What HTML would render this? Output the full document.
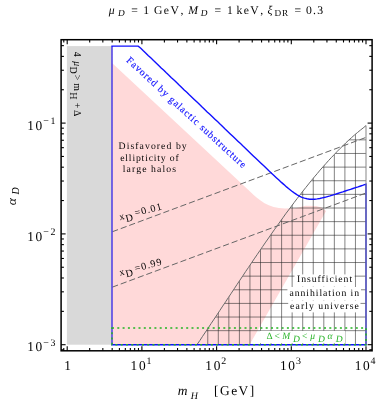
<!DOCTYPE html>
<html><head><meta charset="utf-8"><title>plot</title>
<style>
html,body{margin:0;padding:0;background:#fff;}
body{width:379px;height:401px;overflow:hidden;}
svg{display:block;font-family:"Liberation Serif",serif;}
text{fill:#000;}
.i{font-style:italic;}
</style></head><body>
<svg width="379" height="401" viewBox="0 0 379 401">
<rect x="0" y="0" width="379" height="401" fill="#fff"/>

<rect x="66.9" y="46.1" width="45.0" height="298.6" fill="#d9d9d9"/>
<path d="M112 63.0 L250 191.6 C259 200 268 208.6 285 208.6 L295 208.2 L305.6 205.7 L316.1 206.1 L321.5 207.6 L326.1 210.9 L249.5 344.7 L112 344.7 Z" fill="#ffd9d9"/>
<clipPath id="hc"><path d="M196.9 344.7 L199.8 340.6 L202.6 336.3 L205.5 332.0 L208.4 327.7 L211.2 323.4 L214.1 319.1 L217.0 314.8 L219.8 310.5 L222.7 306.1 L225.6 301.8 L228.4 297.5 L231.3 293.2 L234.2 288.8 L237.0 284.5 L239.9 280.2 L242.8 275.9 L245.6 271.6 L248.5 267.4 L251.4 263.1 L254.2 258.9 L257.1 254.7 L260.0 250.4 L262.8 246.3 L265.7 242.1 L268.6 238.0 L271.4 233.9 L274.3 229.8 L277.2 225.8 L280.0 221.8 L282.9 217.8 L285.7 213.8 L288.6 210.0 L291.5 206.1 L294.3 202.3 L297.2 198.5 L300.1 194.8 L302.9 191.1 L305.8 187.5 L308.7 183.9 L311.5 180.4 L314.4 176.9 L317.3 173.5 L320.1 170.1 L323.0 166.8 L325.9 163.6 L328.7 160.4 L331.6 157.3 L334.5 154.3 L337.3 151.3 L340.2 148.4 L343.1 145.6 L345.9 142.8 L348.8 140.1 L351.7 137.5 L354.5 135.0 L357.4 132.6 L360.3 130.2 L363.1 128.0 L366.0 125.6 L366.0 344.6 Z"/></clipPath>
<g clip-path="url(#hc)" stroke="#222" stroke-width="0.8" stroke-opacity="0.7" fill="none">
<line x1="355.45" y1="120" x2="355.45" y2="345"/>
<line x1="344.90" y1="120" x2="344.90" y2="345"/>
<line x1="334.35" y1="120" x2="334.35" y2="345"/>
<line x1="323.80" y1="120" x2="323.80" y2="345"/>
<line x1="313.25" y1="120" x2="313.25" y2="345"/>
<line x1="302.70" y1="120" x2="302.70" y2="345"/>
<line x1="292.15" y1="120" x2="292.15" y2="345"/>
<line x1="281.60" y1="120" x2="281.60" y2="345"/>
<line x1="271.05" y1="120" x2="271.05" y2="345"/>
<line x1="260.50" y1="120" x2="260.50" y2="345"/>
<line x1="249.95" y1="120" x2="249.95" y2="345"/>
<line x1="239.40" y1="120" x2="239.40" y2="345"/>
<line x1="228.85" y1="120" x2="228.85" y2="345"/>
<line x1="218.30" y1="120" x2="218.30" y2="345"/>
<line x1="207.75" y1="120" x2="207.75" y2="345"/>
<line x1="190" y1="330.67" x2="367" y2="330.67"/>
<line x1="190" y1="317.04" x2="367" y2="317.04"/>
<line x1="190" y1="303.41" x2="367" y2="303.41"/>
<line x1="190" y1="289.78" x2="367" y2="289.78"/>
<line x1="190" y1="276.15" x2="367" y2="276.15"/>
<line x1="190" y1="262.52" x2="367" y2="262.52"/>
<line x1="190" y1="248.89" x2="367" y2="248.89"/>
<line x1="190" y1="235.26" x2="367" y2="235.26"/>
<line x1="190" y1="221.63" x2="367" y2="221.63"/>
<line x1="190" y1="208.00" x2="367" y2="208.00"/>
<line x1="190" y1="194.37" x2="367" y2="194.37"/>
<line x1="190" y1="180.74" x2="367" y2="180.74"/>
<line x1="190" y1="167.11" x2="367" y2="167.11"/>
<line x1="190" y1="153.48" x2="367" y2="153.48"/>
<line x1="190" y1="139.85" x2="367" y2="139.85"/>
</g>
<path d="M196.9 344.7 L199.8 340.6 L202.6 336.3 L205.5 332.0 L208.4 327.7 L211.2 323.4 L214.1 319.1 L217.0 314.8 L219.8 310.5 L222.7 306.1 L225.6 301.8 L228.4 297.5 L231.3 293.2 L234.2 288.8 L237.0 284.5 L239.9 280.2 L242.8 275.9 L245.6 271.6 L248.5 267.4 L251.4 263.1 L254.2 258.9 L257.1 254.7 L260.0 250.4 L262.8 246.3 L265.7 242.1 L268.6 238.0 L271.4 233.9 L274.3 229.8 L277.2 225.8 L280.0 221.8 L282.9 217.8 L285.7 213.8 L288.6 210.0 L291.5 206.1 L294.3 202.3 L297.2 198.5 L300.1 194.8 L302.9 191.1 L305.8 187.5 L308.7 183.9 L311.5 180.4 L314.4 176.9 L317.3 173.5 L320.1 170.1 L323.0 166.8 L325.9 163.6 L328.7 160.4 L331.6 157.3 L334.5 154.3 L337.3 151.3 L340.2 148.4 L343.1 145.6 L345.9 142.8 L348.8 140.1 L351.7 137.5 L354.5 135.0 L357.4 132.6 L360.3 130.2 L363.1 128.0 L366.0 125.6" fill="none" stroke="#6a6a6a" stroke-width="1"/>
<g stroke="#666" stroke-width="1" stroke-dasharray="6.2 2.9" fill="none">
<line x1="112.2" y1="231.8" x2="366" y2="137.4"/>
<line x1="112.2" y1="287.2" x2="366" y2="193.0"/>
</g>
<path d="M366.0 344.7 L112.0 344.7 L112.0 46.1 L138.2 46.1 L140.8 48.3 L143.3 50.8 L145.9 53.2 L148.4 55.7 L151.0 58.1 L153.5 60.6 L156.1 63.0 L158.7 65.4 L161.2 67.9 L163.8 70.3 L166.3 72.8 L168.9 75.2 L171.4 77.7 L174.0 80.1 L176.6 82.5 L179.1 85.0 L181.7 87.4 L184.2 89.9 L186.8 92.3 L189.3 94.8 L191.9 97.2 L194.5 99.7 L197.0 102.1 L199.6 104.5 L202.1 107.0 L204.7 109.4 L207.2 111.9 L209.8 114.3 L212.4 116.8 L214.9 119.2 L217.5 121.6 L220.0 124.1 L222.6 126.5 L225.1 129.0 L227.7 131.4 L230.3 133.9 L232.8 136.3 L235.4 138.8 L237.9 141.2 L240.5 143.6 L243.0 146.1 L245.6 148.5 L248.2 151.0 L250.7 153.4 L253.3 155.9 L255.8 158.3 L258.4 160.7 L261.0 163.2 L263.5 165.6 L266.1 168.0 L268.6 170.5 L271.2 172.9 L273.7 175.3 L276.3 177.7 L278.9 180.0 L281.4 182.4 L284.0 184.6 L286.5 186.9 L289.1 189.0 L291.6 191.0 L294.2 192.9 L296.8 194.6 L299.3 196.1 L301.9 197.3 L304.4 198.2 L307.0 198.8 L309.5 199.2 L312.1 199.3 L314.7 199.2 L317.2 198.9 L319.8 198.5 L322.3 197.9 L324.9 197.3 L327.4 196.6 L330.0 195.9 L332.6 195.1 L335.1 194.3 L337.7 193.5 L340.2 192.7 L342.8 191.9 L345.3 191.0 L347.9 190.2 L350.5 189.4 L353.0 188.5 L355.6 187.7 L358.1 186.9 L360.7 186.0 L363.2 185.2 L366.0 184.2 L366.0 344.7 Z" fill="none" stroke="#1010ff" stroke-width="1.4" stroke-linejoin="miter"/>
<line x1="366" y1="125.6" x2="366" y2="344" stroke="#808080" stroke-width="1.3" stroke-opacity="0.72"/>
<line x1="112" y1="47" x2="112" y2="344" stroke="#e0b0b0" stroke-width="1.4" stroke-opacity="0.35"/>
<path d="M112 327.9 L366 327.9 L366 344.7 L112 344.7 Z" fill="none" stroke="#22b422" stroke-width="1.5" stroke-dasharray="2 3.3"/>
<rect x="61.1" y="39.7" width="311.0" height="311.1" fill="none" stroke="#000" stroke-width="1.5"/>
<g stroke="#000" stroke-width="1.1">
<line x1="63.78" y1="350.80" x2="63.78" y2="348.00"/>
<line x1="63.78" y1="39.70" x2="63.78" y2="42.50"/>
<line x1="67.20" y1="350.80" x2="67.20" y2="346.30"/>
<line x1="67.20" y1="39.70" x2="67.20" y2="44.20"/>
<line x1="89.69" y1="350.80" x2="89.69" y2="348.00"/>
<line x1="89.69" y1="39.70" x2="89.69" y2="42.50"/>
<line x1="102.84" y1="350.80" x2="102.84" y2="348.00"/>
<line x1="102.84" y1="39.70" x2="102.84" y2="42.50"/>
<line x1="112.17" y1="350.80" x2="112.17" y2="348.00"/>
<line x1="112.17" y1="39.70" x2="112.17" y2="42.50"/>
<line x1="119.41" y1="350.80" x2="119.41" y2="348.00"/>
<line x1="119.41" y1="39.70" x2="119.41" y2="42.50"/>
<line x1="125.33" y1="350.80" x2="125.33" y2="348.00"/>
<line x1="125.33" y1="39.70" x2="125.33" y2="42.50"/>
<line x1="130.33" y1="350.80" x2="130.33" y2="348.00"/>
<line x1="130.33" y1="39.70" x2="130.33" y2="42.50"/>
<line x1="134.66" y1="350.80" x2="134.66" y2="348.00"/>
<line x1="134.66" y1="39.70" x2="134.66" y2="42.50"/>
<line x1="138.48" y1="350.80" x2="138.48" y2="348.00"/>
<line x1="138.48" y1="39.70" x2="138.48" y2="42.50"/>
<line x1="141.90" y1="350.80" x2="141.90" y2="346.30"/>
<line x1="141.90" y1="39.70" x2="141.90" y2="44.20"/>
<line x1="164.39" y1="350.80" x2="164.39" y2="348.00"/>
<line x1="164.39" y1="39.70" x2="164.39" y2="42.50"/>
<line x1="177.54" y1="350.80" x2="177.54" y2="348.00"/>
<line x1="177.54" y1="39.70" x2="177.54" y2="42.50"/>
<line x1="186.87" y1="350.80" x2="186.87" y2="348.00"/>
<line x1="186.87" y1="39.70" x2="186.87" y2="42.50"/>
<line x1="194.11" y1="350.80" x2="194.11" y2="348.00"/>
<line x1="194.11" y1="39.70" x2="194.11" y2="42.50"/>
<line x1="200.03" y1="350.80" x2="200.03" y2="348.00"/>
<line x1="200.03" y1="39.70" x2="200.03" y2="42.50"/>
<line x1="205.03" y1="350.80" x2="205.03" y2="348.00"/>
<line x1="205.03" y1="39.70" x2="205.03" y2="42.50"/>
<line x1="209.36" y1="350.80" x2="209.36" y2="348.00"/>
<line x1="209.36" y1="39.70" x2="209.36" y2="42.50"/>
<line x1="213.18" y1="350.80" x2="213.18" y2="348.00"/>
<line x1="213.18" y1="39.70" x2="213.18" y2="42.50"/>
<line x1="216.60" y1="350.80" x2="216.60" y2="346.30"/>
<line x1="216.60" y1="39.70" x2="216.60" y2="44.20"/>
<line x1="239.09" y1="350.80" x2="239.09" y2="348.00"/>
<line x1="239.09" y1="39.70" x2="239.09" y2="42.50"/>
<line x1="252.24" y1="350.80" x2="252.24" y2="348.00"/>
<line x1="252.24" y1="39.70" x2="252.24" y2="42.50"/>
<line x1="261.57" y1="350.80" x2="261.57" y2="348.00"/>
<line x1="261.57" y1="39.70" x2="261.57" y2="42.50"/>
<line x1="268.81" y1="350.80" x2="268.81" y2="348.00"/>
<line x1="268.81" y1="39.70" x2="268.81" y2="42.50"/>
<line x1="274.73" y1="350.80" x2="274.73" y2="348.00"/>
<line x1="274.73" y1="39.70" x2="274.73" y2="42.50"/>
<line x1="279.73" y1="350.80" x2="279.73" y2="348.00"/>
<line x1="279.73" y1="39.70" x2="279.73" y2="42.50"/>
<line x1="284.06" y1="350.80" x2="284.06" y2="348.00"/>
<line x1="284.06" y1="39.70" x2="284.06" y2="42.50"/>
<line x1="287.88" y1="350.80" x2="287.88" y2="348.00"/>
<line x1="287.88" y1="39.70" x2="287.88" y2="42.50"/>
<line x1="291.30" y1="350.80" x2="291.30" y2="346.30"/>
<line x1="291.30" y1="39.70" x2="291.30" y2="44.20"/>
<line x1="313.79" y1="350.80" x2="313.79" y2="348.00"/>
<line x1="313.79" y1="39.70" x2="313.79" y2="42.50"/>
<line x1="326.94" y1="350.80" x2="326.94" y2="348.00"/>
<line x1="326.94" y1="39.70" x2="326.94" y2="42.50"/>
<line x1="336.27" y1="350.80" x2="336.27" y2="348.00"/>
<line x1="336.27" y1="39.70" x2="336.27" y2="42.50"/>
<line x1="343.51" y1="350.80" x2="343.51" y2="348.00"/>
<line x1="343.51" y1="39.70" x2="343.51" y2="42.50"/>
<line x1="349.43" y1="350.80" x2="349.43" y2="348.00"/>
<line x1="349.43" y1="39.70" x2="349.43" y2="42.50"/>
<line x1="354.43" y1="350.80" x2="354.43" y2="348.00"/>
<line x1="354.43" y1="39.70" x2="354.43" y2="42.50"/>
<line x1="358.76" y1="350.80" x2="358.76" y2="348.00"/>
<line x1="358.76" y1="39.70" x2="358.76" y2="42.50"/>
<line x1="362.58" y1="350.80" x2="362.58" y2="348.00"/>
<line x1="362.58" y1="39.70" x2="362.58" y2="42.50"/>
<line x1="366.00" y1="350.80" x2="366.00" y2="346.30"/>
<line x1="366.00" y1="39.70" x2="366.00" y2="44.20"/>
<line x1="61.10" y1="349.77" x2="63.90" y2="349.77"/>
<line x1="372.10" y1="349.77" x2="369.30" y2="349.77"/>
<line x1="61.10" y1="344.70" x2="65.60" y2="344.70"/>
<line x1="372.10" y1="344.70" x2="367.60" y2="344.70"/>
<line x1="61.10" y1="311.35" x2="63.90" y2="311.35"/>
<line x1="372.10" y1="311.35" x2="369.30" y2="311.35"/>
<line x1="61.10" y1="291.83" x2="63.90" y2="291.83"/>
<line x1="372.10" y1="291.83" x2="369.30" y2="291.83"/>
<line x1="61.10" y1="277.99" x2="63.90" y2="277.99"/>
<line x1="372.10" y1="277.99" x2="369.30" y2="277.99"/>
<line x1="61.10" y1="267.25" x2="63.90" y2="267.25"/>
<line x1="372.10" y1="267.25" x2="369.30" y2="267.25"/>
<line x1="61.10" y1="258.48" x2="63.90" y2="258.48"/>
<line x1="372.10" y1="258.48" x2="369.30" y2="258.48"/>
<line x1="61.10" y1="251.06" x2="63.90" y2="251.06"/>
<line x1="372.10" y1="251.06" x2="369.30" y2="251.06"/>
<line x1="61.10" y1="244.64" x2="63.90" y2="244.64"/>
<line x1="372.10" y1="244.64" x2="369.30" y2="244.64"/>
<line x1="61.10" y1="238.97" x2="63.90" y2="238.97"/>
<line x1="372.10" y1="238.97" x2="369.30" y2="238.97"/>
<line x1="61.10" y1="233.90" x2="65.60" y2="233.90"/>
<line x1="372.10" y1="233.90" x2="367.60" y2="233.90"/>
<line x1="61.10" y1="200.55" x2="63.90" y2="200.55"/>
<line x1="372.10" y1="200.55" x2="369.30" y2="200.55"/>
<line x1="61.10" y1="181.03" x2="63.90" y2="181.03"/>
<line x1="372.10" y1="181.03" x2="369.30" y2="181.03"/>
<line x1="61.10" y1="167.19" x2="63.90" y2="167.19"/>
<line x1="372.10" y1="167.19" x2="369.30" y2="167.19"/>
<line x1="61.10" y1="156.45" x2="63.90" y2="156.45"/>
<line x1="372.10" y1="156.45" x2="369.30" y2="156.45"/>
<line x1="61.10" y1="147.68" x2="63.90" y2="147.68"/>
<line x1="372.10" y1="147.68" x2="369.30" y2="147.68"/>
<line x1="61.10" y1="140.26" x2="63.90" y2="140.26"/>
<line x1="372.10" y1="140.26" x2="369.30" y2="140.26"/>
<line x1="61.10" y1="133.84" x2="63.90" y2="133.84"/>
<line x1="372.10" y1="133.84" x2="369.30" y2="133.84"/>
<line x1="61.10" y1="128.17" x2="63.90" y2="128.17"/>
<line x1="372.10" y1="128.17" x2="369.30" y2="128.17"/>
<line x1="61.10" y1="123.10" x2="65.60" y2="123.10"/>
<line x1="372.10" y1="123.10" x2="367.60" y2="123.10"/>
<line x1="61.10" y1="89.75" x2="63.90" y2="89.75"/>
<line x1="372.10" y1="89.75" x2="369.30" y2="89.75"/>
<line x1="61.10" y1="70.23" x2="63.90" y2="70.23"/>
<line x1="372.10" y1="70.23" x2="369.30" y2="70.23"/>
<line x1="61.10" y1="56.39" x2="63.90" y2="56.39"/>
<line x1="372.10" y1="56.39" x2="369.30" y2="56.39"/>
<line x1="61.10" y1="45.65" x2="63.90" y2="45.65"/>
<line x1="372.10" y1="45.65" x2="369.30" y2="45.65"/>
</g>
<g opacity="0.99">
<text transform="translate(64.30 369.80) skewX(0.5)" font-size="13.5">1</text>
<text transform="translate(130.60 369.80) skewX(0.5)" font-size="13.5" letter-spacing="1.6">10</text>
<text transform="translate(146.50 364.20) skewX(0.5)" font-size="10">1</text>
<text transform="translate(205.30 369.80) skewX(0.5)" font-size="13.5" letter-spacing="1.6">10</text>
<text transform="translate(221.20 364.20) skewX(0.5)" font-size="10">2</text>
<text transform="translate(280.00 369.80) skewX(0.5)" font-size="13.5" letter-spacing="1.6">10</text>
<text transform="translate(295.90 364.20) skewX(0.5)" font-size="10">3</text>
<text transform="translate(354.70 369.80) skewX(0.5)" font-size="13.5" letter-spacing="1.6">10</text>
<text transform="translate(370.60 364.20) skewX(0.5)" font-size="10">4</text>
<text transform="translate(27.20 129.70) skewX(0.5)" font-size="13.5" letter-spacing="1.6">10</text>
<text transform="translate(43.30 124.10) skewX(0.5)" font-size="10">−</text>
<text transform="translate(50.60 124.10) skewX(0.5)" font-size="10">1</text>
<text transform="translate(27.20 240.50) skewX(0.5)" font-size="13.5" letter-spacing="1.6">10</text>
<text transform="translate(43.30 234.90) skewX(0.5)" font-size="10">−</text>
<text transform="translate(50.60 234.90) skewX(0.5)" font-size="10">2</text>
<text transform="translate(27.20 351.30) skewX(0.5)" font-size="13.5" letter-spacing="1.6">10</text>
<text transform="translate(43.30 345.70) skewX(0.5)" font-size="10">−</text>
<text transform="translate(50.60 345.70) skewX(0.5)" font-size="10">3</text>
<text transform="translate(177.80 395.40) skewX(0.5)" font-size="13.5" class="i">m</text>
<text transform="translate(190.80 399.00) skewX(0.5)" font-size="10" class="i">H</text>
<text transform="translate(214.00 395.40) skewX(0.5)" font-size="13.5" letter-spacing="1.45">[GeV]</text>
<text transform="translate(16.2,205.3) rotate(-90)" font-size="13.5" class="i">α</text>
<text transform="translate(18.7,194.6) rotate(-90)" font-size="10" class="i">D</text>
<text transform="translate(108.80 13.90) skewX(0.5)" font-size="11.8" class="i">μ</text>
<text transform="translate(118.00 16.00) skewX(0.5)" font-size="9.3" class="i">D</text>
<text transform="translate(131.30 13.90) skewX(0.5)" font-size="11.8">=</text>
<text transform="translate(143.20 13.90) skewX(0.5)" font-size="11.8">1</text>
<text transform="translate(154.00 13.90) skewX(0.5)" font-size="11.8" letter-spacing="1.35">GeV</text>
<text transform="translate(180.40 13.90) skewX(0.5)" font-size="11.8">,</text>
<text transform="translate(188.20 13.90) skewX(0.5)" font-size="11.8" class="i">M</text>
<text transform="translate(200.80 16.00) skewX(0.5)" font-size="9.3" class="i">D</text>
<text transform="translate(214.40 13.90) skewX(0.5)" font-size="11.8">=</text>
<text transform="translate(227.00 13.90) skewX(0.5)" font-size="11.8">1</text>
<text transform="translate(236.40 13.90) skewX(0.5)" font-size="11.8" letter-spacing="1.35">keV</text>
<text transform="translate(260.20 13.90) skewX(0.5)" font-size="11.8">,</text>
<text transform="translate(267.60 13.90) skewX(0.5)" font-size="11.8" class="i">ξ</text>
<text transform="translate(274.60 16.00) skewX(0.5)" font-size="9.3" letter-spacing="0.8">DR</text>
<text transform="translate(294.60 13.90) skewX(0.5)" font-size="11.8">=</text>
<text transform="translate(306.00 13.90) skewX(0.5)" font-size="11.8" letter-spacing="1.2">0.3</text>
<text transform="translate(118.60 149.20) skewX(0.5)" font-size="9.8" letter-spacing="1.03">Disfavored by</text>
<text transform="translate(120.20 160.70) skewX(0.5)" font-size="9.8" letter-spacing="0.8">ellipticity of</text>
<text transform="translate(122.80 171.90) skewX(0.5)" font-size="9.8" letter-spacing="1.07">large halos</text>
<rect x="294.5" y="274.4" width="60.2" height="12.2" fill="#fff"/><rect x="287.4" y="287.0" width="73.6" height="13.0" fill="#fff"/><rect x="288.2" y="300.4" width="72.3" height="12.0" fill="#fff"/>
<text transform="translate(297.00 282.40) skewX(0.5)" font-size="9.8" letter-spacing="0.92">Insufficient</text>
<text transform="translate(289.40 295.80) skewX(0.5)" font-size="9.8" letter-spacing="0.92">annihilation in</text>
<text transform="translate(290.10 309.00) skewX(0.5)" font-size="9.8" letter-spacing="1.04">early universe</text>
<text transform="translate(125.7,61.0) rotate(42.6)" font-size="10" letter-spacing="0.92" style="fill:#1414ff;stroke:#1414ff;stroke-width:0.15">Favored by galactic substructure</text>
<text transform="translate(74.30 51.80) rotate(90)" font-size="9.8">4</text>
<text transform="translate(74.30 61.20) rotate(90)" font-size="9.8" class="i">μ</text>
<text transform="translate(70.10 66.40) rotate(90)" font-size="10">D</text>
<text transform="translate(74.30 74.80) rotate(90)" font-size="9.8">&gt;</text>
<text transform="translate(74.30 83.20) rotate(90)" font-size="9.8">m</text>
<text transform="translate(70.10 92.20) rotate(90)" font-size="10">H</text>
<text transform="translate(74.30 102.80) rotate(90)" font-size="9.8">+</text>
<text transform="translate(74.30 110.00) rotate(90)" font-size="9.8">Δ</text>
<g transform="translate(120.0,220.3) rotate(-14.5)" font-size="10.2">
<text x="0" y="0">x</text><text x="5.8" y="3.2">D</text><text x="16.0" y="0" letter-spacing="1.0">=0.01</text>
</g>
<g transform="translate(120.0,275.7) rotate(-14.5)" font-size="10.2">
<text x="0" y="0">x</text><text x="5.8" y="3.2">D</text><text x="16.0" y="0" letter-spacing="1.0">=0.99</text>
</g>
<rect x="260" y="330.8" width="85" height="12.4" fill="#fff"/>
<text transform="translate(266.50 338.60) skewX(0.5)" font-size="9.6" style="fill:#28b428">Δ</text>
<text transform="translate(274.50 338.60) skewX(0.5)" font-size="9.6" style="fill:#28b428">&lt;</text>
<text transform="translate(282.30 338.60) skewX(0.5)" font-size="9.6" class="i" style="fill:#28b428">M</text>
<text transform="translate(293.00 341.50) skewX(0.5)" font-size="9.6" class="i" style="fill:#28b428">D</text>
<text transform="translate(302.10 338.60) skewX(0.5)" font-size="9.6" style="fill:#28b428">&lt;</text>
<text transform="translate(310.20 338.60) skewX(0.5)" font-size="9.6" class="i" style="fill:#28b428">μ</text>
<text transform="translate(318.00 341.50) skewX(0.5)" font-size="9.6" class="i" style="fill:#28b428">D</text>
<text transform="translate(327.50 338.60) skewX(0.5)" font-size="9.6" class="i" style="fill:#28b428">α</text>
<text transform="translate(335.80 341.50) skewX(0.5)" font-size="9.6" class="i" style="fill:#28b428">D</text>
</g>
</svg></body></html>
